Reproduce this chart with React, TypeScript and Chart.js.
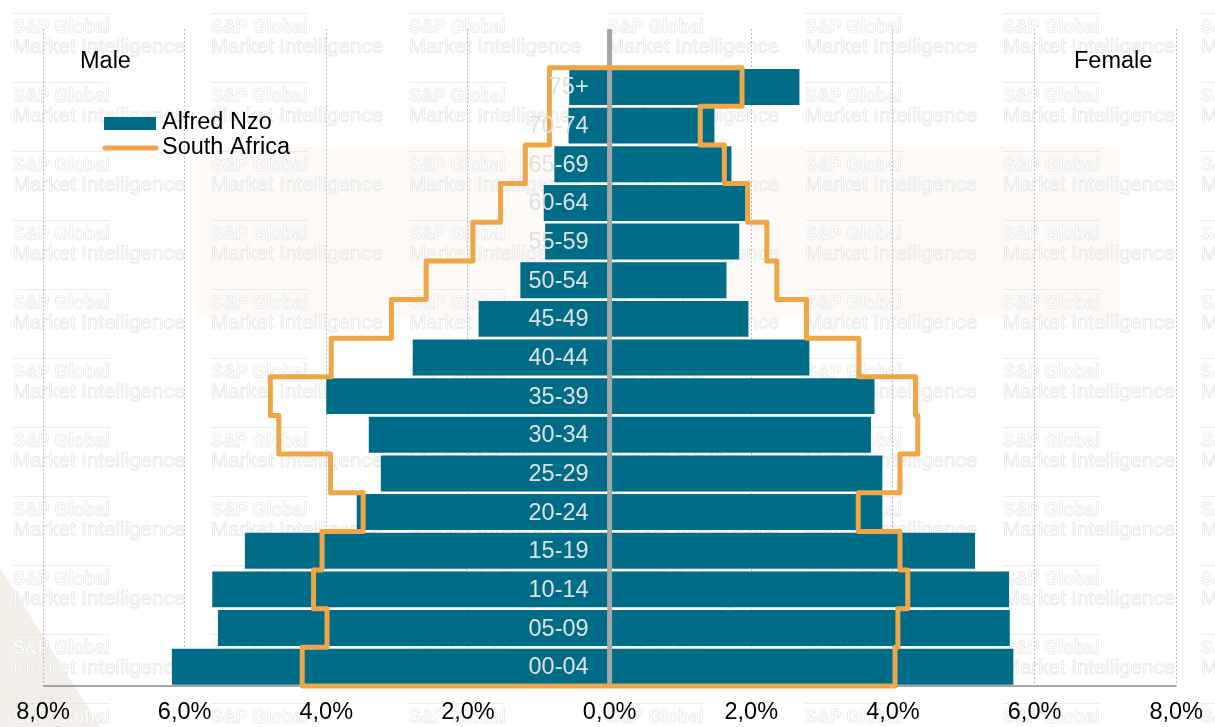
import React, { useEffect, useRef } from 'react';
import { Chart, registerables } from 'chart.js';

Chart.register(...registerables);

// ---- Data (top row to bottom row) ----
const ageGroups = ['75+', '70-74', '65-69', '60-64', '55-59', '50-54', '45-49', '40-44', '35-39', '30-34', '25-29', '20-24', '15-19', '10-14', '05-09', '00-04'];
const alfredNzoMale = [0.57, 0.58, 0.78, 0.93, 0.91, 1.26, 1.85, 2.78, 4.0, 3.4, 3.23, 3.57, 5.15, 5.61, 5.53, 6.18];
const alfredNzoFemale = [2.68, 1.48, 1.72, 1.92, 1.83, 1.65, 1.96, 2.82, 3.74, 3.69, 3.85, 3.85, 5.16, 5.64, 5.65, 5.7];
const southAfricaMale = [0.85, 0.85, 1.19, 1.54, 1.93, 2.59, 3.08, 3.93, 4.79, 4.67, 3.94, 3.48, 4.06, 4.18, 3.99, 4.34];
const southAfricaFemale = [1.87, 1.28, 1.62, 1.95, 2.22, 2.36, 2.78, 3.52, 4.32, 4.35, 4.1, 3.51, 4.1, 4.21, 4.07, 4.03];
const xMin = -8;
const xMax = 8;
const xStep = 2;
const seriesNames = ['Alfred Nzo', 'South Africa'];
const sideNames = ['Male', 'Female'];

const TEAL = '#006d88';
const ORANGE = '#f0a646';
const AXIS_GRAY = '#a6a6a6';
const FONT = '"Liberation Sans", Arial, sans-serif';

const backgroundPlugin = {
  id: 'bgWatermark',
  beforeDraw(chart: any) {
    const { ctx, width, height } = chart;
    ctx.save();
    ctx.fillStyle = '#ffffff';
    ctx.fillRect(0, 0, width, height);
    // faint background shapes
    ctx.fillStyle = '#fefaf7';
    ctx.fillRect(195, 147, 925, 171);
    ctx.fillStyle = '#f3eee8';
    ctx.beginPath();
    ctx.moveTo(0, 568);
    ctx.lineTo(100, 727);
    ctx.lineTo(0, 727);
    ctx.closePath();
    ctx.fill();
    // watermark
    ctx.lineWidth = 0.7;
    ctx.strokeStyle = '#e4e4e4';
    ctx.textBaseline = 'alphabetic';
    ctx.textAlign = 'left';
    for (let c = 0; c < 7; c++) {
      for (let r = 0; r < 11; r++) {
        const x = 13 + 198 * c;
        const y = 13 + 69 * r;
        ctx.beginPath();
        ctx.moveTo(x, y + 0.5);
        ctx.lineTo(x + 97, y + 0.5);
        ctx.stroke();
        ctx.font = 'bold 21px ' + FONT;
        ctx.fillStyle = '#ffffff';
        ctx.fillText('S&P Global', x, y + 20, 97);
        ctx.strokeText('S&P Global', x, y + 20, 97);
        ctx.font = '20.5px ' + FONT;
        ctx.fillText('Market Intelligence', x, y + 40);
        ctx.strokeText('Market Intelligence', x, y + 40);
      }
    }
    ctx.restore();
  },
};

const overlayPlugin = {
  id: 'overlay',
  afterDatasetsDraw(chart: any) {
    const { ctx, chartArea, scales } = chart;
    const xs = scales.x;
    const ys = scales.y;
    const x0 = xs.getPixelForValue(0);
    ctx.save();

    // bottom axis line
    ctx.strokeStyle = AXIS_GRAY;
    ctx.lineWidth = 2;
    ctx.beginPath();
    ctx.moveTo(chartArea.left, chartArea.bottom);
    ctx.lineTo(chartArea.right, chartArea.bottom);
    ctx.stroke();

    // zero line
    ctx.fillStyle = AXIS_GRAY;
    ctx.fillRect(x0 - 2.5, chartArea.top, 5, chartArea.bottom - chartArea.top);

    // South Africa outline (stepped)
    const half = (ys.getPixelForValue(1) - ys.getPixelForValue(0)) / 2;
    const n = ageGroups.length;
    const cy = (i: number) => ys.getPixelForValue(i + 1);
    ctx.strokeStyle = ORANGE;
    ctx.lineWidth = 5;
    ctx.lineJoin = 'round';
    ctx.lineCap = 'round';
    ctx.beginPath();
    ctx.moveTo(xs.getPixelForValue(-southAfricaMale[0]), cy(0) - half);
    ctx.lineTo(xs.getPixelForValue(southAfricaFemale[0]), cy(0) - half);
    for (let i = 0; i < n; i++) {
      const xf = xs.getPixelForValue(southAfricaFemale[i]);
      ctx.lineTo(xf, cy(i) + half);
      if (i < n - 1) ctx.lineTo(xs.getPixelForValue(southAfricaFemale[i + 1]), cy(i) + half);
    }
    ctx.lineTo(xs.getPixelForValue(-southAfricaMale[n - 1]), cy(n - 1) + half);
    for (let i = n - 1; i >= 0; i--) {
      const xm = xs.getPixelForValue(-southAfricaMale[i]);
      ctx.lineTo(xm, cy(i) - half);
      if (i > 0) ctx.lineTo(xs.getPixelForValue(-southAfricaMale[i - 1]), cy(i) - half);
    }
    ctx.closePath();
    ctx.stroke();

    // category labels
    ctx.font = '23.5px ' + FONT;
    ctx.fillStyle = '#e0e0e0';
    ctx.textAlign = 'right';
    ctx.textBaseline = 'middle';
    ageGroups.forEach((g, i) => {
      ctx.fillText(g, x0 - 21, cy(i) + 1);
    });

    // legend
    ctx.fillStyle = TEAL;
    ctx.fillRect(104, 117, 52, 13);
    ctx.strokeStyle = ORANGE;
    ctx.lineWidth = 5;
    ctx.lineCap = 'round';
    ctx.beginPath();
    ctx.moveTo(105, 148);
    ctx.lineTo(156, 148);
    ctx.stroke();
    ctx.fillStyle = '#000000';
    ctx.textAlign = 'left';
    ctx.textBaseline = 'middle';
    ctx.fillText(seriesNames[0], 162, 123);
    ctx.fillText(seriesNames[1], 162, 148);

    // side labels
    ctx.fillText(sideNames[0], 80, 62);
    ctx.fillText(sideNames[1], 1074, 62);
    ctx.restore();
  },
};

export default function App() {
  const canvasRef = useRef<HTMLCanvasElement | null>(null);

  useEffect(() => {
    document.body.style.margin = '0';
    const canvas = canvasRef.current;
    if (!canvas) return;
    Chart.defaults.font.family = FONT;
    const labels = ['', ...ageGroups];
    const chart = new Chart(canvas, {
      type: 'bar',
      data: {
        labels,
        datasets: [
          {
            label: seriesNames[0] + ' ' + sideNames[0],
            data: [null, ...alfredNzoMale.map((v) => -v)],
            backgroundColor: TEAL,
            borderWidth: 0,
            barPercentage: 0.93,
            categoryPercentage: 1,
          },
          {
            label: seriesNames[0] + ' ' + sideNames[1],
            data: [null, ...alfredNzoFemale],
            backgroundColor: TEAL,
            borderWidth: 0,
            barPercentage: 0.93,
            categoryPercentage: 1,
          },
        ],
      },
      options: {
        indexAxis: 'y',
        responsive: false,
        animation: false,
        devicePixelRatio: 1,
        layout: { padding: { left: 43, right: 36, top: 29, bottom: 0 } },
        plugins: {
          legend: { display: false },
          tooltip: { enabled: false },
          title: { display: false },
        },
        scales: {
          x: {
            type: 'linear',
            min: xMin,
            max: xMax,
            stacked: true,
            afterFit: (scale: any) => {
              scale.height = 41;
            },
            ticks: {
              stepSize: xStep,
              color: '#000000',
              padding: 12,
              font: { size: 23.5, family: FONT },
              callback: (v: any) => Math.abs(Number(v)).toFixed(1).replace('.', ',') + '%',
            },
            grid: {
              color: '#bdbdbd',
              lineWidth: 1,
              drawTicks: false,
            },
            border: { display: false, dash: [2, 2] },
          },
          y: {
            type: 'category',
            stacked: true,
            display: false,
            offset: true,
          },
        },
      },
      plugins: [backgroundPlugin, overlayPlugin],
    } as any);
    return () => chart.destroy();
  }, []);

  return (
    <div style={{ width: 1215, height: 727 }}>
      <canvas ref={canvasRef} width={1215} height={727} style={{ display: 'block' }} />
    </div>
  );
}
